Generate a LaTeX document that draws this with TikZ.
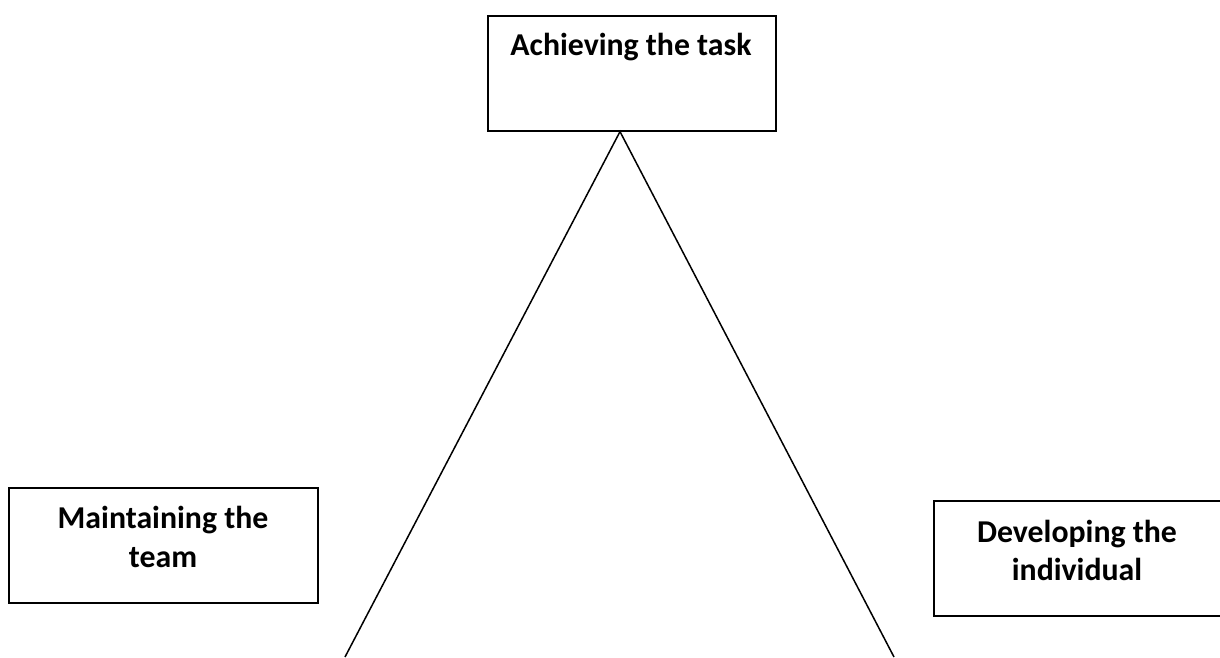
\documentclass[tikz,border=0pt]{standalone}
\usepackage{fontspec}
\setmainfont{Carlito}
\usetikzlibrary{calc}
\tikzset{
  box/.style={draw=black, line width=1.6pt, fill=white, inner sep=0pt, anchor=north west},
  caption/.style={font=\bfseries\fontsize{31.8}{39}\selectfont, inner sep=0pt, anchor=base},
  side/.style={draw=black, line width=1.5pt}
}
\begin{document}
\begin{tikzpicture}[x=1pt, y=-1pt]
  \useasboundingbox (0,0) rectangle (1220,657);
  \clip (0,0) rectangle (1220,657);
  \fill[white] (0,0) rectangle (1220,657);

  % the three boxes
  \node[box, minimum width=288pt, minimum height=115pt] (task) at (487,15) {};
  \node[box, minimum width=309pt, minimum height=115pt] (team) at (8,487) {};
  \node[box, minimum width=292pt, minimum height=115pt] (indiv) at (933,500) {};

  % box captions
  \node[caption] (taskA) at (631,55) {Achieving the task};
  \node[caption] (teamA) at (163,528) {Maintaining the};
  \node[caption] (teamB) at (163,567) {team};
  \node[caption] (indivA) at (1077,542) {Developing the};
  \node[caption] (indivB) at (1077,580) {individual};

  % the open triangle hanging from the top box
  \coordinate (apex) at ($(task.south west)+(133,0)$);
  \coordinate (footL) at (345,657);
  \coordinate (footR) at (894,657);
  \draw[side] (footL) -- (apex) -- (footR);
\end{tikzpicture}
\end{document}
